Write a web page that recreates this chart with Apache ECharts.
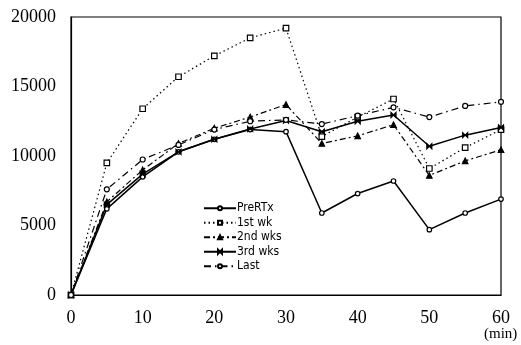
<!DOCTYPE html>
<html><head><meta charset="utf-8">
<script src="https://cdn.jsdelivr.net/npm/echarts@6/dist/echarts.min.js"></script>
<style>html,body{margin:0;padding:0;background:#fff}#c{width:521px;height:345px}</style>
</head><body><div id="c"></div>
<script>
const minutes = [0,5,10,15,20,25,30,35,40,45,50,55,60];
const preRTx = [0,6200,8500,10300,11200,11900,11750,5900,7300,8200,4700,5900,6900];
const wk1    = [0,9500,13400,15700,17200,18500,19200,11400,12800,14100,9100,10600,11900];
const wk2    = [0,6700,9000,10900,12000,12800,13700,10900,11450,12250,8600,9650,10450];
const wk3    = [0,6500,8700,10300,11200,11950,12550,11750,12500,12950,10700,11500,12050];
const last   = [0,7600,9750,10800,11900,12500,12600,12300,12900,13500,12800,13600,13900];
const seriesNames = ['PreRTx','1st wk','2nd wks','3rd wks','Last'];
const yTicks = [0,5000,10000,15000,20000];
const xTicks = [0,10,20,30,40,50,60];

const pair = arr => minutes.map((m,i)=>[m,arr[i]]);
const bow = 'path://M0,0L10,10L10,0L0,10Z';
const defs = [
  {d:preRTx, sym:'circle', size:4.5, fill:'#fff', type:'solid', w:1.5},
  {d:wk1, sym:'rect', size:5.5, fill:'#fff', type:[1.5,3], w:1.2},
  {d:wk2, sym:'triangle', size:5.5, fill:'#000', type:[6,3,2,3], w:1.2},
  {d:wk3, sym:bow, size:5, fill:'#000', type:'solid', w:1.5},
  {d:last, sym:'circle', size:5, fill:'#fff', type:[7,4,1.5,4], w:1.2}
];
const chart = echarts.init(document.getElementById('c'));
chart.setOption({
  animation:false,
  backgroundColor:'#fff',
  grid:{left:71,right:20,top:17,bottom:50,show:true,borderColor:'#000',borderWidth:1.2},
  legend:{
    left:198, top:196, orient:'vertical', itemGap:0, itemWidth:32, itemHeight:5,
    textStyle:{fontFamily:'Liberation Sans Narrow, DejaVu Sans Condensed, sans-serif',fontSize:12,lineHeight:14.5,color:'#000',padding:[0,0,0,-4]},
    data:seriesNames
  },
  xAxis:{type:'value',min:0,max:60,interval:10,
    axisLine:{show:true,lineStyle:{color:'#000',width:1.2}},
    axisTick:{show:false},splitLine:{show:false},
    axisLabel:{margin:14,fontFamily:'Liberation Serif, serif',fontSize:18,color:'#000',
      formatter:v=>xTicks.includes(v)?String(v):''}
  },
  yAxis:{type:'value',min:0,max:20000,interval:5000,
    axisLine:{show:true,lineStyle:{color:'#000',width:1.2}},
    axisTick:{show:false},splitLine:{show:false},
    axisLabel:{margin:15,fontFamily:'Liberation Serif, serif',fontSize:18,color:'#000',
      formatter:v=>yTicks.includes(v)?String(v):''}
  },
  graphic:[{type:'text',left:484,top:327,style:{text:'(min)',font:'15px Liberation Serif, serif',fill:'#000'}}],
  series:defs.map((s,i)=>({
    name:seriesNames[i], type:'line', data:pair(s.d),
    symbol:s.sym, symbolSize:s.size, showAllSymbol:true,
    itemStyle:{color:s.fill,borderColor:'#000',borderWidth:1.2},
    lineStyle:{color:'#000',width:s.w,type:s.type}
  }))
});
</script></body></html>
